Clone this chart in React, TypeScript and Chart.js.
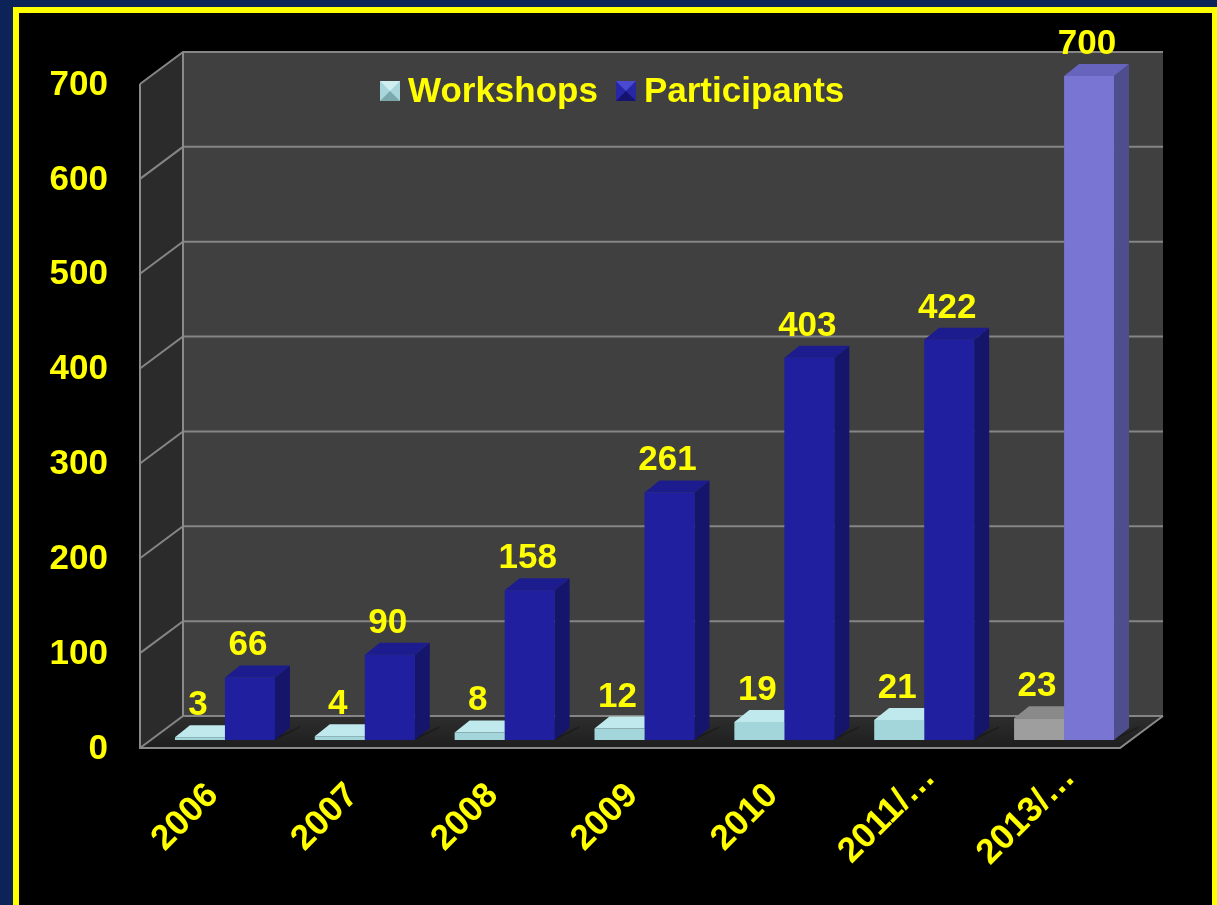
import React, { useEffect, useRef } from 'react';
import { Chart, registerables } from 'chart.js';

Chart.register(...registerables);

// ---------- data ----------
const categories = ['2006', '2007', '2008', '2009', '2010', '2011/…', '2013/…'];
const workshops = [3, 4, 8, 12, 19, 21, 23];
const participants = [66, 90, 158, 261, 403, 422, 700];
const seriesNames = ['Workshops', 'Participants'];
const yTickValues = [0, 100, 200, 300, 400, 500, 600, 700];

// ---------- styles ----------
const FONT = '"Liberation Sans", Arial, sans-serif';
const YELLOW = '#ffff00';
const NAVY = '#0b2356';

const wsFront = categories.map((_, i) => (i === categories.length - 1 ? '#9e9e9e' : '#a3d6da'));
const wsTop = categories.map((_, i) => (i === categories.length - 1 ? '#8a8a8a' : '#bfe9ec'));
const wsSide = categories.map((_, i) => (i === categories.length - 1 ? '#747474' : '#7fb2b6'));
const ptFront = categories.map((_, i) => (i === categories.length - 1 ? '#7876d2' : '#1f1f9f'));
const ptTop = categories.map((_, i) => (i === categories.length - 1 ? '#6664bc' : '#1c1c8e'));
const ptSide = categories.map((_, i) => (i === categories.length - 1 ? '#4e4d8e' : '#15156c'));

// 3D geometry (pixel offsets relative to the bar plane)
const BAR_DX = 15;
const BAR_DY = -12;
const FRONT_DX = -11;
const FRONT_DY = 8;
const BACK_DX = 32;
const BACK_DY = -24;

function poly(ctx: CanvasRenderingContext2D, pts: number[][], fill: any) {
  ctx.beginPath();
  ctx.moveTo(pts[0][0], pts[0][1]);
  for (let i = 1; i < pts.length; i++) ctx.lineTo(pts[i][0], pts[i][1]);
  ctx.closePath();
  ctx.fillStyle = fill;
  ctx.fill();
}

const threeD = {
  id: 'threeD',
  beforeDraw(chart: any) {
    const { ctx, chartArea } = chart;
    const ys = chart.scales.y;
    const L = chartArea.left - 4;
    const R = chartArea.right - 3;
    const y0 = ys.getPixelForValue(0);
    const yMax = ys.getPixelForValue(yTickValues[yTickValues.length - 1]);
    const Lf = L + FRONT_DX, Lb = L + BACK_DX, Rf = R + FRONT_DX, Rb = R + BACK_DX;
    ctx.save();
    // back wall
    poly(ctx, [[Lb, yMax + BACK_DY], [Rb, yMax + BACK_DY], [Rb, y0 + BACK_DY], [Lb, y0 + BACK_DY]], '#404040');
    // left wall
    poly(ctx, [[Lf, yMax + FRONT_DY], [Lb, yMax + BACK_DY], [Lb, y0 + BACK_DY], [Lf, y0 + FRONT_DY]], '#2b2b2b');
    // floor
    const g = ctx.createLinearGradient(0, y0 + BACK_DY, 0, y0 + FRONT_DY);
    g.addColorStop(0, '#2e2e2e');
    g.addColorStop(1, '#1e1e1e');
    poly(ctx, [[Lf, y0 + FRONT_DY], [Lb, y0 + BACK_DY], [Rb, y0 + BACK_DY], [Rf, y0 + FRONT_DY]], g);
    // gridlines
    ctx.strokeStyle = '#858585';
    ctx.lineWidth = 2;
    yTickValues.forEach((v) => {
      const p = ys.getPixelForValue(v);
      ctx.beginPath();
      ctx.moveTo(Lf, p + FRONT_DY);
      ctx.lineTo(Lb, p + BACK_DY);
      ctx.lineTo(Rb, p + BACK_DY);
      ctx.stroke();
    });
    // edges
    ctx.strokeStyle = '#8a8a8a';
    ctx.beginPath();
    ctx.moveTo(Lf, yMax + FRONT_DY);
    ctx.lineTo(Lf, y0 + FRONT_DY);
    ctx.lineTo(Rf, y0 + FRONT_DY);
    ctx.lineTo(Rb, y0 + BACK_DY);
    ctx.stroke();
    ctx.beginPath();
    ctx.moveTo(Lb, yMax + BACK_DY);
    ctx.lineTo(Lb, y0 + BACK_DY);
    ctx.stroke();
    ctx.restore();
  },
  beforeDatasetsDraw(chart: any) {
    const { ctx } = chart;
    const metaW = chart.getDatasetMeta(0);
    const metaP = chart.getDatasetMeta(1);
    ctx.save();
    for (let i = 0; i < categories.length; i++) {
      [[metaW, wsTop, wsSide], [metaP, ptTop, ptSide]].forEach(([meta, top, side]: any) => {
        const el = meta.data[i];
        const { x, y, base, width } = el.getProps(['x', 'y', 'base', 'width'], true);
        const l = x - width / 2;
        const r = x + width / 2;
        poly(ctx, [[r, base], [r + BAR_DX + 10, base + BAR_DY], [r + BAR_DX + 10, base + BAR_DY - 2], [r, base - 2]], 'rgba(0,0,0,0.25)');
        poly(ctx, [[r, y], [r + BAR_DX, y + BAR_DY], [r + BAR_DX, base + BAR_DY], [r, base]], side[i]);
        poly(ctx, [[l, y], [l + BAR_DX, y + BAR_DY], [r + BAR_DX, y + BAR_DY], [r, y]], top[i]);
      });
    }
    ctx.restore();
  },
  afterDatasetsDraw(chart: any) {
    const { ctx } = chart;
    ctx.save();
    ctx.fillStyle = YELLOW;
    ctx.font = `bold 35px ${FONT}`;
    ctx.textAlign = 'center';
    ctx.textBaseline = 'alphabetic';
    [0, 1].forEach((d) => {
      const meta = chart.getDatasetMeta(d);
      const vals = d === 0 ? workshops : participants;
      meta.data.forEach((el: any, i: number) => {
        const { x, y } = el.getProps(['x', 'y'], true);
        ctx.fillText(String(vals[i]), x - 2, y - 22);
      });
    });
    ctx.restore();
  },
  afterDraw(chart: any) {
    const { ctx, chartArea } = chart;
    const xs = chart.scales.x;
    ctx.save();
    ctx.font = `bold 35px ${FONT}`;
    // category labels (rotated 45°)
    ctx.fillStyle = YELLOW;
    ctx.textAlign = 'right';
    ctx.textBaseline = 'middle';
    const lh = 42;
    const rot = Math.PI / 4;
    categories.forEach((c, i) => {
      const px = xs.getPixelForTick(i) - 12 - (lh / 2) * Math.sin(rot);
      const py = chartArea.bottom + 35;
      ctx.save();
      ctx.translate(px, py);
      ctx.rotate(-rot);
      const extra = c.includes('…') ? 25 : 0;
      ctx.fillText(c, extra, lh / 2);
      ctx.restore();
    });
    // legend
    ctx.textBaseline = 'alphabetic';
    ctx.textAlign = 'left';
    let x = chartArea.left + 225;
    const boxTop = 81;
    const size = 20;
    const colors = [
      ['#a8d6da', '#d0eef0', '#7aa8ac'],
      ['#2626a6', '#4a4ad0', '#141470'],
    ];
    seriesNames.forEach((name, i) => {
      const [base, light, dark] = colors[i];
      poly(ctx, [[x, boxTop], [x + size, boxTop], [x + size, boxTop + size], [x, boxTop + size]], base);
      poly(ctx, [[x, boxTop], [x + size, boxTop], [x + size / 2, boxTop + size / 2]], light);
      poly(ctx, [[x, boxTop + size], [x + size, boxTop + size], [x + size / 2, boxTop + size / 2]], dark);
      ctx.fillStyle = YELLOW;
      ctx.fillText(name, x + size + 8, 102);
      x += size + 8 + ctx.measureText(name).width + 18;
    });
    ctx.restore();
  },
};

export default function App() {
  const ref = useRef<HTMLCanvasElement>(null);
  useEffect(() => {
    if (!ref.current) return;
    const chart = new Chart(ref.current, {
      type: 'bar',
      data: {
        labels: categories,
        datasets: [
          { label: seriesNames[0], data: workshops, backgroundColor: wsFront, borderWidth: 0, categoryPercentage: 0.715, barPercentage: 1 } as any,
          { label: seriesNames[1], data: participants, backgroundColor: ptFront, borderWidth: 0, categoryPercentage: 0.715, barPercentage: 1 } as any,
        ],
      },
      options: {
        responsive: false,
        animation: false,
        events: [],
        layout: { padding: { left: 0, right: 83, top: 76, bottom: 0 } },
        plugins: { legend: { display: false }, tooltip: { enabled: false } },
        scales: {
          x: {
            grid: { display: false, drawTicks: false },
            border: { display: false },
            ticks: { display: false, autoSkip: false },
            afterFit: (s: any) => { s.height = 165; },
          },
          y: {
            min: 0,
            max: 700,
            grid: { display: false, drawTicks: false },
            border: { display: false },
            ticks: {
              stepSize: 100,
              color: YELLOW,
              font: { family: FONT, size: 35, weight: 'bold' },
              padding: 47,
              labelOffset: 9,
            },
            afterFit: (s: any) => { s.width = 155; },
          },
        },
      },
      plugins: [threeD],
    } as any);
    return () => chart.destroy();
  }, []);

  return (
    <div style={{ position: 'fixed', left: 0, top: 0, width: 1217, height: 905, background: NAVY, overflow: 'hidden' }}>
      <div
        style={{
          position: 'absolute',
          left: 13,
          top: 7,
          width: 1205,
          height: 1000,
          border: `6px solid ${YELLOW}`,
          background: '#000',
          boxSizing: 'border-box',
        }}
      />
      <canvas ref={ref} width={1217} height={905} style={{ position: 'absolute', left: 0, top: 0, width: 1217, height: 905 }} />
    </div>
  );
}
